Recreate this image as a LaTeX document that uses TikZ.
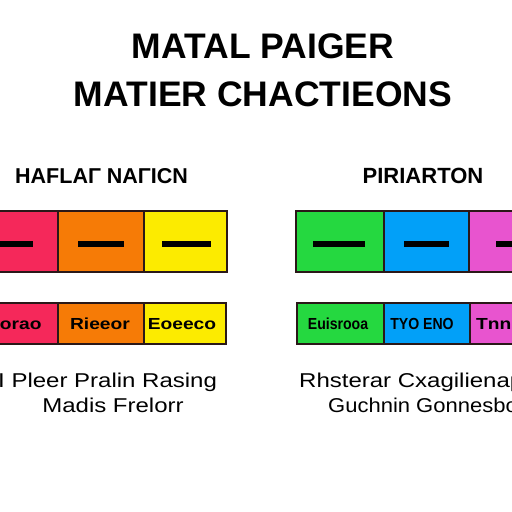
\documentclass[tikz,border=0pt]{standalone}
\usepackage{fontspec}
\setmainfont{Liberation Sans}
\newfontfamily\widefont[FakeStretch=1.2]{Liberation Sans}
\newfontfamily\midfont[FakeStretch=1.1]{Liberation Sans}
\newfontfamily\labfont[FakeStretch=1.2]{Liberation Sans}
\newfontfamily\narrowlab[FakeStretch=0.88]{Liberation Sans}
\definecolor{cred}{HTML}{F5285A}
\definecolor{corange}{HTML}{F67B06}
\definecolor{cyellow}{HTML}{FCEB00}
\definecolor{cgreen}{HTML}{25D840}
\definecolor{cblue}{HTML}{02A0F8}
\definecolor{cmag}{HTML}{E854CF}
\definecolor{boxline}{HTML}{2A1818}
\begin{document}
\begin{tikzpicture}[x=1pt,y=-1pt,
  topbox/.style={draw=boxline,line width=1.4pt,inner sep=0pt,minimum height=61pt},
  botbox/.style={draw=boxline,line width=1.4pt,inner sep=0pt,minimum height=41pt},
  dashbar/.style={line width=6pt,black},
  boxlab/.style={inner sep=0pt,anchor=base,font=\labfont\bfseries\fontsize{16}{18}\selectfont},
  narrowboxlab/.style={inner sep=0pt,anchor=base,font=\narrowlab\bfseries\fontsize{16}{18}\selectfont},
  body/.style={inner sep=0pt,font=\widefont\fontsize{20}{24}\selectfont},
  title/.style={inner sep=0pt,anchor=base,font=\fontsize{35.5}{40}\selectfont\bfseries},
  subtitle/.style={inner sep=0pt,font=\fontsize{20}{24}\selectfont\bfseries}]
\useasboundingbox (0,0) rectangle (512,512);
\clip (0,0) rectangle (512,512);
\fill[white] (0,0) rectangle (512,512);
% titles
\node[title] (t1) at (263,58) {MATAL PAIGER};
\node[title] (t2) at (263,106) {MATIER CHACTIEONS};
\node[subtitle,anchor=base west,font=\fontsize{21.5}{24}\selectfont\bfseries] (s1) at (15,183) {HAFLAΓ NAΓICN};
\node[subtitle,anchor=base,font=\fontsize{22}{24}\selectfont\bfseries] (s2) at (423,183) {PIRIARTON};
% top boxes
\node[topbox,fill=cred,minimum width=88pt] (a1) at (14,241.5) {};
\node[topbox,fill=corange,minimum width=86pt] (a2) at (101,241.5) {};
\node[topbox,fill=cyellow,minimum width=83pt] (a3) at (185.5,241.5) {};
\node[topbox,fill=cgreen,minimum width=88pt] (a4) at (340,241.5) {};
\node[topbox,fill=cblue,minimum width=85pt] (a5) at (426.5,241.5) {};
\node[topbox,fill=cmag,minimum width=91pt] (a6) at (514.5,241.5) {};
\draw[dashbar] (-12,244) -- (33,244);
\draw[dashbar] (78,244) -- (124,244);
\draw[dashbar] (162,244) -- (211,244);
\draw[dashbar] (313,244) -- (365,244);
\draw[dashbar] (404,244) -- (449,244);
\draw[dashbar] (496,244) -- (548,244);
% bottom boxes
\node[botbox,fill=cred,minimum width=88pt] (b1) at (14,323.5) {};
\node[botbox,fill=corange,minimum width=86pt] (b2) at (101,323.5) {};
\node[botbox,fill=cyellow,minimum width=82pt] (b3) at (185,323.5) {};
\node[botbox,fill=cgreen,minimum width=87pt] (b4) at (340.5,323.5) {};
\node[botbox,fill=cblue,minimum width=86pt] (b5) at (427,323.5) {};
\node[botbox,fill=cmag,minimum width=90pt] (b6) at (515,323.5) {};
\node[boxlab] (l1) at (16,329) {ɛorao};
\node[boxlab] (l2) at (100,329) {Rieeor};
\node[boxlab] (l3) at (182,329) {Eoeeco};
\node[narrowboxlab] (l4) at (338,329) {Euisrooa};
\node[narrowboxlab] (l5) at (422,329) {TYO ENO};
\node[boxlab,anchor=base west] (l6) at (476,329) {Tnn};
% lower texts
\node[body,anchor=base west] (p1) at (-2,387) {I Pleer Pralin Rasing};
\node[body,anchor=base] (p2) at (113,412) {Madis Frelorr};
\node[body,anchor=base west] (p3) at (299,387) {Rhsterar Cxagilienap};
\node[body,anchor=base west,font=\midfont\fontsize{20}{24}\selectfont] (p4) at (328,412) {Guchnin Gonnesbou};
\end{tikzpicture}
\end{document}
